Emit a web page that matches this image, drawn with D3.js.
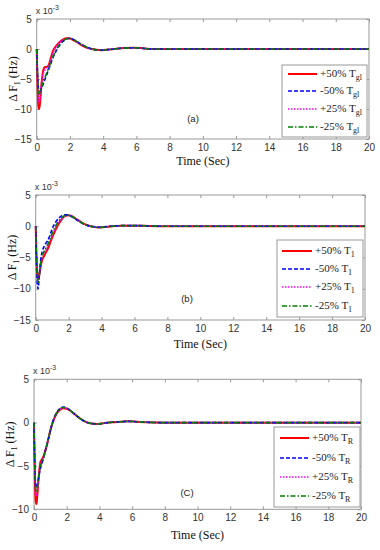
<!DOCTYPE html>
<html><head><meta charset="utf-8">
<script src="https://cdn.jsdelivr.net/npm/d3@7"></script>
<style>body{margin:0;background:#fff}svg{display:block}</style>
</head><body>
<script>
const times = [0,0.05,0.1,0.15,0.2,0.3,0.4,0.5,0.6,0.7,0.8,0.9,1.0,1.2,1.4,1.6,1.8,2.0,2.2,2.5,2.8,3.1,3.5,3.9,4.3,4.8,5.3,5.8,6.3,6.8,8,12,20];
const xTicks = [0,2,4,6,8,10,12,14,16,18,20];
const seriesNames = ["+50%","-50%","+25%","-25%"];
const panelSubs = ["gl","1","R"];
const panelTags = ["(a)","(b)","(C)"];

const a_p50 = [0,-6,-9.5,-10,-9,-5.5,-3.5,-3,-3,-2.8,-2,-1,-0.2,0.6,1.2,1.6,1.8,1.75,1.5,1.0,0.5,0.15,-0.1,-0.2,-0.1,0.05,0.15,0.2,0.15,0,0,0,0];
const a_m50 = [0,-4,-6.5,-7,-7,-6.5,-5.8,-5,-4.3,-3.5,-2.8,-2.0,-1.3,-0.2,0.7,1.3,1.7,1.8,1.6,1.1,0.6,0.2,-0.1,-0.2,-0.1,0.05,0.15,0.2,0.15,0,0,0,0];
const a_p25 = [0,-5.5,-8.5,-9,-8,-5.5,-4,-3.5,-3.2,-2.8,-2.2,-1.3,-0.5,0.4,1.1,1.5,1.75,1.75,1.55,1.05,0.55,0.17,-0.1,-0.2,-0.1,0.05,0.15,0.2,0.15,0,0,0,0];
const a_m25 = [0,-4.5,-7,-7.5,-7.3,-6.3,-5.3,-4.7,-4,-3.3,-2.6,-1.8,-1.1,0,0.8,1.35,1.7,1.8,1.6,1.1,0.6,0.2,-0.1,-0.2,-0.1,0.05,0.15,0.2,0.15,0,0,0,0];

const b_p50 = [0,-5,-7.8,-8.5,-8,-6.5,-5.3,-4.8,-4.3,-3.8,-3.2,-2.5,-1.8,-0.6,0.4,1.2,1.65,1.75,1.6,1.1,0.6,0.2,-0.1,-0.2,-0.1,0.05,0.1,0.1,0.1,0.05,0,0,0];
const b_m50 = [0,-6,-9.5,-10,-8.5,-5.5,-4,-3.3,-2.8,-2.4,-1.9,-1.2,-0.4,0.6,1.3,1.7,1.85,1.75,1.5,1.0,0.5,0.15,-0.05,-0.15,-0.05,0.05,0.1,0.1,0.1,0.05,0,0,0];
const b_p25 = [0,-5.2,-8,-8.8,-8.2,-6.2,-5,-4.4,-3.9,-3.4,-2.8,-2.1,-1.4,-0.3,0.6,1.3,1.7,1.75,1.55,1.05,0.55,0.18,-0.1,-0.2,-0.1,0.05,0.1,0.1,0.1,0.05,0,0,0];
const b_m25 = [0,-5.5,-8.5,-9,-8.3,-6,-4.7,-4.1,-3.6,-3.1,-2.5,-1.8,-1.1,0,0.8,1.4,1.75,1.75,1.55,1.05,0.55,0.18,-0.1,-0.2,-0.1,0.05,0.1,0.1,0.1,0.05,0,0,0];

const c_p50 = [0,-6,-9,-9.4,-8.5,-6,-4.5,-4.2,-3.8,-3.2,-2.5,-1.7,-0.9,0.3,1.1,1.5,1.65,1.6,1.4,0.95,0.5,0.15,-0.1,-0.15,-0.05,0.05,0.1,0.15,0.1,0.05,0,0,0];
const c_m50 = [0,-5,-7.2,-7.5,-7.2,-6.2,-5.2,-4.6,-3.9,-3.2,-2.5,-1.7,-0.9,0.4,1.2,1.65,1.8,1.7,1.45,0.95,0.5,0.15,-0.1,-0.15,-0.05,0.05,0.1,0.15,0.1,0.05,0,0,0];
const c_p25 = [0,-5.6,-8.2,-8.5,-8,-6.1,-4.8,-4.4,-3.9,-3.2,-2.5,-1.7,-0.9,0.35,1.15,1.55,1.7,1.65,1.42,0.95,0.5,0.15,-0.1,-0.15,-0.05,0.05,0.1,0.15,0.1,0.05,0,0,0];
const c_m25 = [0,-5.3,-7.7,-8,-7.6,-6.1,-5,-4.5,-3.9,-3.2,-2.5,-1.7,-0.9,0.38,1.18,1.6,1.75,1.68,1.44,0.95,0.5,0.15,-0.1,-0.15,-0.05,0.05,0.1,0.15,0.1,0.05,0,0,0];

const yTicksAB = [5,0,-5,-10,-15];
const yTicksC = [5,0,-5,-10];

const styles = [
  {color:"#ff0000", dash:null},
  {color:"#0000ff", dash:"4,2"},
  {color:"#ff00ff", dash:"1.5,1.5"},
  {color:"#008000", dash:"5,2,1.5,2"}
];

const panels = [
  {L:36.7,R:369,T:19,B:139,ymin:-15,ymax:5,yt:yTicksAB,data:[a_p50,a_m50,a_p25,a_m25],
   leg:{x:282,y:65,w:85,h:72,rows:[74,91,109,127],lx0:288,lx1:317,tx:320},tag:{x:193,y:122},xl:{y:165}},
  {L:35.7,R:365,T:195,B:320,ymin:-15,ymax:5,yt:yTicksAB,data:[b_p50,b_m50,b_p25,b_m25],
   leg:{x:277,y:240,w:86,h:77,rows:[251,269,287,306],lx0:282,lx1:312,tx:315},tag:{x:187,y:302},xl:{y:348}},
  {L:34,R:361,T:379.3,B:509.3,ymin:-10,ymax:5,yt:yTicksC,data:[c_p50,c_m50,c_p25,c_m25],
   leg:{x:274,y:427,w:86,h:80,rows:[438,458,477,496],lx0:280,lx1:309,tx:312},tag:{x:187,y:496},xl:{y:539}}
];

const svg = d3.select("body").append("svg").attr("width",380).attr("height",550);

panels.forEach((p,pi)=>{
  const g = svg.append("g");
  const x = d3.scaleLinear().domain([0,20]).range([p.L,p.R]);
  const y = d3.scaleLinear().domain([p.ymin,p.ymax]).range([p.B,p.T]);
  g.append("rect").attr("x",p.L).attr("y",p.T).attr("width",p.R-p.L).attr("height",p.B-p.T)
    .attr("fill","#fff").attr("stroke","#999").attr("stroke-width",1);
  const ax = d3.axisBottom(x).tickValues(xTicks).tickSize(-3).tickPadding(5);
  const gx = g.append("g").attr("transform",`translate(0,${p.B})`).call(ax);
  const axT = d3.axisTop(x).tickValues(xTicks).tickSize(-3).tickFormat("");
  const gxt = g.append("g").attr("transform",`translate(0,${p.T})`).call(axT);
  const ay = d3.axisLeft(y).tickValues(p.yt).tickSize(-3).tickPadding(5);
  const gy = g.append("g").attr("transform",`translate(${p.L},0)`).call(ay);
  const ayR = d3.axisRight(y).tickValues(p.yt).tickSize(-3).tickFormat("");
  const gyr = g.append("g").attr("transform",`translate(${p.R},0)`).call(ayR);
  [gx,gxt,gy,gyr].forEach(a=>{
    a.select(".domain").remove();
    a.selectAll("line").attr("stroke","#999");
    a.selectAll("text").attr("fill","#333").style("font-family","'Liberation Sans',Arial,sans-serif").style("font-size","10px");
  });
  const line = d3.line().x((d,i)=>x(times[i])).y(d=>y(d)).curve(d3.curveMonotoneX);
  const order = [0,2,1,3];
  order.forEach(si=>{
    g.append("path").datum(p.data[si]).attr("d",line).attr("fill","none")
      .attr("stroke",styles[si].color).attr("stroke-width",si===0?2:1.6)
      .attr("stroke-dasharray",styles[si].dash);
  });
  const mt = g.append("text").attr("x",p.L-1).attr("y",p.T-5)
    .style("font-family","'Liberation Sans',Arial,sans-serif").style("font-size","9px").attr("fill","#333");
  mt.append("tspan").text("x 10");
  mt.append("tspan").attr("dy",-4).style("font-size","7px").text("-3");
  const yl = g.append("text").attr("transform",`translate(${p.L-20},${(p.T+p.B)/2}) rotate(-90)`)
    .attr("text-anchor","middle").style("font-family","'Liberation Serif','Times New Roman',serif")
    .style("font-size","12px").attr("fill","#111");
  yl.append("tspan").text("Δ F");
  yl.append("tspan").attr("dy",3).style("font-size","8px").text("1");
  yl.append("tspan").attr("dy",-3).text(" (Hz)");
  g.append("text").attr("x",(p.L+p.R)/2).attr("y",p.xl.y).attr("text-anchor","middle")
    .style("font-family","'Liberation Serif','Times New Roman',serif").style("font-size","12px")
    .attr("fill","#111").text("Time (Sec)");
  g.append("text").attr("x",p.tag.x).attr("y",p.tag.y).attr("text-anchor","middle")
    .style("font-family","'Liberation Sans',Arial,sans-serif").style("font-size","9.5px").attr("fill","#222").text(panelTags[pi]);
  const lg = p.leg;
  g.append("rect").attr("x",lg.x).attr("y",lg.y).attr("width",lg.w).attr("height",lg.h)
    .attr("fill","#fff").attr("stroke","#999");
  seriesNames.forEach((nm,si)=>{
    g.append("line").attr("x1",lg.lx0).attr("x2",lg.lx1).attr("y1",lg.rows[si]).attr("y2",lg.rows[si])
      .attr("stroke",styles[si].color).attr("stroke-width",si===0?2:1.6).attr("stroke-dasharray",styles[si].dash);
    const t = g.append("text").attr("x",lg.tx).attr("y",lg.rows[si]+3)
      .style("font-family","'Liberation Serif','Times New Roman',serif").style("font-size","11px").attr("fill","#222");
    t.append("tspan").text(nm+" T");
    t.append("tspan").attr("dy",3).style("font-size","8px").text(panelSubs[pi]);
  });
});
</script>
</body></html>
